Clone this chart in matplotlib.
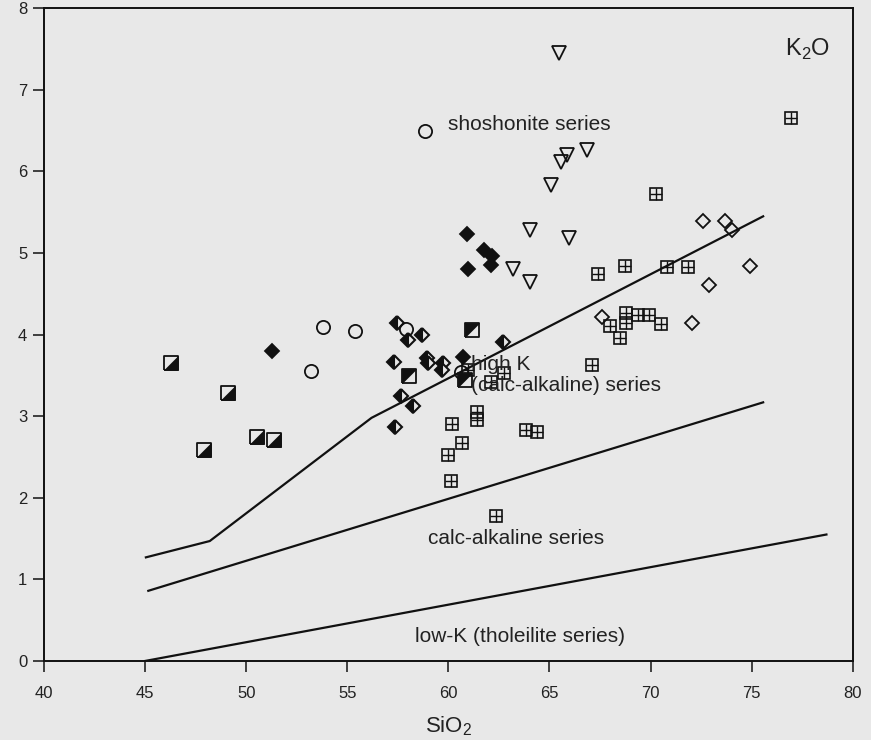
import numpy as np
import matplotlib
matplotlib.use("Agg")
import matplotlib.pyplot as plt

plt.rcParams['font.family'] = ['Liberation Sans', 'DejaVu Sans']

# boundary lines (SiO2, K2O)
bound1_x = [45.04, 48.2, 56.2, 75.57]
bound1_y = [1.27, 1.47, 2.98, 5.45]
bound2_x = [45.16, 75.57]
bound2_y = [0.86, 3.17]
bound3_x = [45.0, 78.7]
bound3_y = [0.0, 1.55]

# sample groups
half_sq_lr_x = [46.3, 49.1, 50.55, 51.4, 47.9]
half_sq_lr_y = [3.65, 3.29, 2.75, 2.71, 2.59]
half_sq_ul_x = [58.07, 61.15, 60.82]
half_sq_ul_y = [3.49, 4.06, 3.44]

half_dia_x = [57.44, 58.0, 58.7, 57.33, 58.93, 59.0, 59.75, 59.67, 57.64, 58.23, 57.36, 62.68]
half_dia_y = [4.14, 3.94, 4.0, 3.66, 3.71, 3.65, 3.65, 3.57, 3.25, 3.13, 2.87, 3.91]

fill_dia_x = [51.3, 60.74, 60.93, 61.76, 62.14, 60.99, 62.1]
fill_dia_y = [3.80, 3.73, 5.23, 5.04, 4.96, 4.80, 4.85]

open_dia_x = [67.62, 72.9, 72.06, 74.9, 72.6, 73.68, 74.01]
open_dia_y = [4.21, 4.61, 4.14, 4.84, 5.39, 5.39, 5.28]

circ_x = [53.8, 55.4, 53.2, 57.93, 58.84, 60.62]
circ_y = [4.09, 4.05, 3.55, 4.07, 6.50, 3.54]

tri_x = [65.47, 66.84, 65.88, 65.55, 65.07, 64.04, 65.98, 63.2, 64.04]
tri_y = [7.45, 6.26, 6.2, 6.12, 5.83, 5.28, 5.18, 4.80, 4.65]

grid_x = [60.99, 62.77, 62.09, 61.4, 61.4, 60.2, 60.69, 60.0, 60.13, 63.82, 64.37, 62.35,
          67.41, 68.73, 70.82, 71.83, 68.02, 68.8, 68.8, 69.39, 69.93, 70.51, 68.5, 67.1,
          76.97, 70.27]
grid_y = [3.57, 3.53, 3.42, 3.05, 2.95, 2.91, 2.67, 2.52, 2.20, 2.83, 2.81, 1.78,
          4.74, 4.84, 4.83, 4.83, 4.11, 4.26, 4.14, 4.24, 4.24, 4.13, 3.96, 3.63,
          6.66, 5.72]

bg = '#e8e8e8'
fig = plt.figure(figsize=(8.71, 7.40), dpi=100, facecolor=bg)
ax = fig.add_axes([0.0505, 0.1068, 0.9285, 0.882])
ax.set_facecolor(bg)

lw = 1.6
ax.plot(bound1_x, bound1_y, color='#111111', lw=lw)
ax.plot(bound2_x, bound2_y, color='#111111', lw=lw)
ax.plot(bound3_x, bound3_y, color='#111111', lw=lw)

ec = '#111111'
mew = 1.3
sq = [(-1, -1), (1, -1), (1, 1), (-1, 1), (-1, -1)]
tri_lr = [(-1, -1), (1, -1), (1, 1), (-1, -1)]
tri_ul = [(-1, -1), (1, 1), (-1, 1), (-1, -1)]
ms_sq = 10

# half-filled squares
ax.plot(half_sq_lr_x, half_sq_lr_y, ls='none', marker=tri_lr, ms=ms_sq, mfc=ec, mec=ec, mew=0.5)
ax.plot(half_sq_lr_x, half_sq_lr_y, ls='none', marker=sq, ms=ms_sq, mfc='none', mec=ec, mew=mew)
ax.plot(half_sq_ul_x, half_sq_ul_y, ls='none', marker=tri_ul, ms=ms_sq, mfc=ec, mec=ec, mew=0.5)
ax.plot(half_sq_ul_x, half_sq_ul_y, ls='none', marker=sq, ms=ms_sq, mfc='none', mec=ec, mew=mew)

# diamonds
ax.plot(half_dia_x, half_dia_y, ls='none', marker='D', ms=7.2, fillstyle='left',
        mfc=ec, mfcalt=bg, mec=ec, mew=1.5)
ax.plot(fill_dia_x, fill_dia_y, ls='none', marker='D', ms=7.2, mfc=ec, mec=ec, mew=mew)
ax.plot(open_dia_x, open_dia_y, ls='none', marker='D', ms=7.2, mfc='none', mec=ec, mew=mew)

# circles and triangles
ax.plot(circ_x, circ_y, ls='none', marker='o', ms=9.5, mfc='none', mec=ec, mew=mew)
ax.plot(tri_x, tri_y, ls='none', marker='v', ms=10, mfc='none', mec=ec, mew=mew)

# squares with cross
ax.plot(grid_x, grid_y, ls='none', marker='s', ms=8.5, mfc='none', mec=ec, mew=1.2)
ax.plot(grid_x, grid_y, ls='none', marker='+', ms=8.5, mec=ec, mew=1.0)

# labels in the field
tc = '#222222'
ax.text(59.98, 6.57, 'shoshonite series', fontsize=15, color=tc, va='center', ha='left')
ax.text(61.12, 3.63, 'high K', fontsize=15, color=tc, va='center', ha='left')
ax.text(61.12, 3.38, '(calc-alkaline) series', fontsize=15, color=tc, va='center', ha='left')
ax.text(59.0, 1.50, 'calc-alkaline series', fontsize=15, color=tc, va='center', ha='left')
ax.text(58.34, 0.30, 'low-K (tholeilite series)', fontsize=15, color=tc, va='center', ha='left')
ax.text(76.65, 7.49, 'K$_{\\mathregular{2}}$O', fontsize=17, color=tc, va='center', ha='left')

ax.set_xlim(40, 80)
ax.set_ylim(0, 8)
ax.set_xticks(np.arange(40, 81, 5))
ax.set_yticks(np.arange(0, 9, 1))
ax.tick_params(direction='out', length=8, width=1.2, labelsize=12, colors='#222222')
ax.tick_params(axis='x', pad=10)
ax.tick_params(axis='y', pad=4)
for s in ax.spines.values():
    s.set_linewidth(1.4)
    s.set_color('#111111')
ax.set_xlabel('SiO$_{\\mathregular{2}}$', fontsize=16, color=tc, labelpad=10)

fig.savefig('out.png', dpi=100, facecolor=bg)
